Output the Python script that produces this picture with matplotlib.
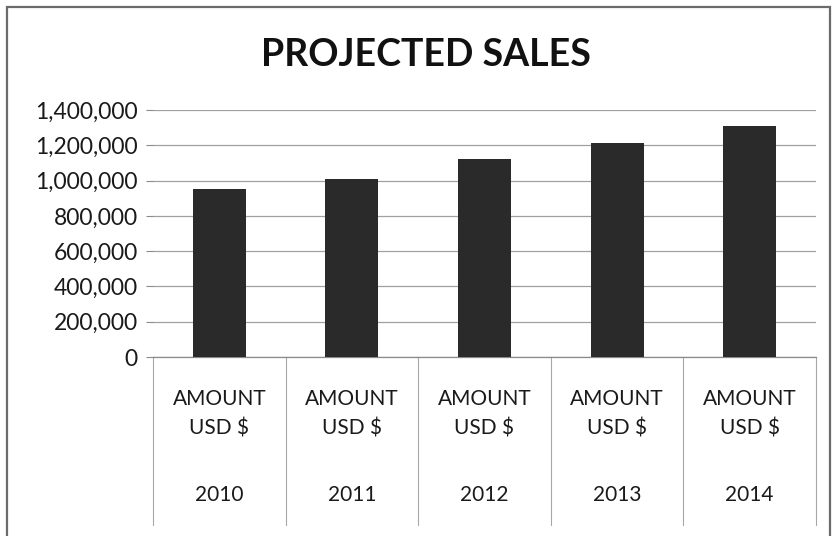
import numpy as np
import matplotlib
matplotlib.use('Agg')
import matplotlib.pyplot as plt
from matplotlib.patches import Rectangle
from matplotlib.ticker import FuncFormatter
import matplotlib.transforms as mtransforms

plt.rcParams['font.family'] = ['Lato', 'DejaVu Sans']

# projected sales per year, USD
years = ['2010', '2011', '2012', '2013', '2014']
series_name = 'AMOUNT\nUSD $'
sales = [950000, 1010000, 1120000, 1215000, 1310000]
y_ticks = [0, 200000, 400000, 600000, 800000, 1000000, 1200000, 1400000]

fig = plt.figure(figsize=(8.32, 5.36), dpi=100)
fig.patch.set_facecolor('white')

# chart border
fig.patches.append(Rectangle((7/832, -0.01), 823/832, 1 - 7/536 + 0.01,
                             transform=fig.transFigure, fill=False,
                             edgecolor='#6b6b6b', linewidth=1.6))

ax = fig.add_axes([153/832, 179/536, 663/832, 247/536])
x = np.arange(len(years))
ax.bar(x, sales, width=0.4, color='#2a2a2a', zorder=3)

ax.set_xlim(-0.5, len(years) - 0.5)
ax.set_ylim(0, 1400000)
ax.set_yticks(y_ticks)
ax.yaxis.set_major_formatter(FuncFormatter(lambda v, p: f'{int(v):,}'))
ax.tick_params(axis='y', labelsize=16.5, length=5, color='#8a8a8a',
               labelcolor='#1a1a1a', pad=6)
ax.tick_params(axis='x', bottom=False, labelbottom=False)
ax.grid(axis='y', color='#a0a0a0', linewidth=0.9, zorder=0)
for s in ['top', 'right', 'left']:
    ax.spines[s].set_visible(False)
ax.spines['bottom'].set_color('#8a8a8a')
ax.spines['bottom'].set_linewidth(0.9)

# category table below the axis
trans = mtransforms.blended_transform_factory(ax.transData, ax.transAxes)
for b in np.arange(-0.5, len(years), 1.0):
    ax.plot([b, b], [0, -0.68], transform=trans, color='#a8a8a8',
            linewidth=0.8, clip_on=False)
for i, yr in enumerate(years):
    ax.text(i, -0.228, series_name, transform=trans, ha='center', va='center',
            fontsize=15, color='#1a1a1a', linespacing=1.6)
    ax.text(i, -0.56, yr, transform=trans, ha='center', va='center',
            fontsize=15, color='#1a1a1a')

fig.text(426/832, 1 - 55/536, 'PROJECTED SALES', ha='center', va='center',
         fontsize=27, fontweight='bold', color='#111111')

fig.savefig('out.png', dpi=100, facecolor='white')
